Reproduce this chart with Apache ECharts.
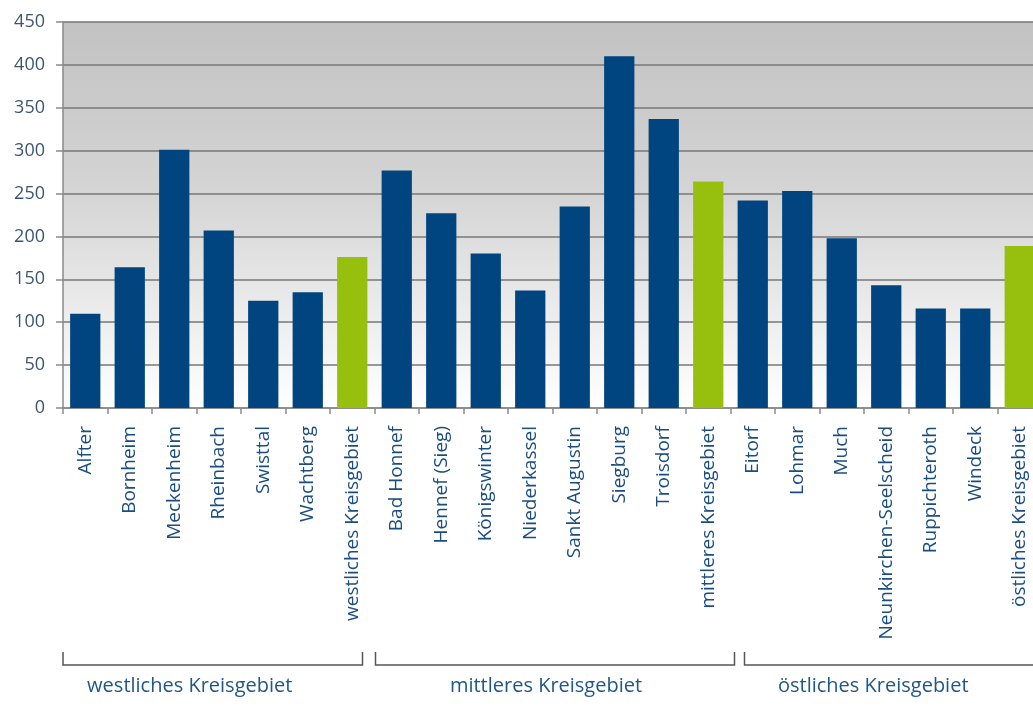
<!DOCTYPE html>
<html><head><meta charset="utf-8">
<script src="https://cdn.jsdelivr.net/npm/echarts@6/dist/echarts.min.js"></script>
<style>html,body{margin:0;padding:0;background:#fff;overflow:hidden}#c{width:1045px;height:706px}</style>
</head><body><div id="c"></div>
<script>
const categories = ["Alfter","Bornheim","Meckenheim","Rheinbach","Swisttal","Wachtberg","westliches Kreisgebiet","Bad Honnef","Hennef (Sieg)","Königswinter","Niederkassel","Sankt Augustin","Siegburg","Troisdorf","mittleres Kreisgebiet","Eitorf","Lohmar","Much","Neunkirchen-Seelscheid","Ruppichteroth","Windeck","östliches Kreisgebiet"];
const values = [110,164,301,207,125,135,176,277,227,180,137,235,410,337,264,242,253,198,143,116,116,189];
const isAggregate = [0,0,0,0,0,0,1,0,0,0,0,0,0,0,1,0,0,0,0,0,0,1];
const yTicks = [0,50,100,150,200,250,300,350,400,450];
const groups = [
  {name:"westliches Kreisgebiet", from:0, to:7},
  {name:"mittleres Kreisgebiet", from:7, to:15},
  {name:"östliches Kreisgebiet", from:15, to:22}
];
const BLUE = "#00457f", GREEN = "#97bf0d";
const chart = echarts.init(document.getElementById('c'));
chart.setOption({
  animation:false,
  grid:{left:63, top:22, bottom:298, width:979, show:true, borderWidth:0,
    backgroundColor:{type:'linear',x:0,y:0,x2:0,y2:1,colorStops:[{offset:0,color:'#c2c2c2'},{offset:0.45,color:'#d5d5d5'},{offset:1,color:'#ffffff'}]}},
  xAxis:{type:'category', data:categories,
    axisLine:{lineStyle:{color:'#8a8a8a',width:1.5}},
    axisTick:{show:true, length:6, lineStyle:{color:'#8a8a8a',width:1.5}},
    axisLabel:{rotate:90, interval:0, margin:18, color:'#1b4e80', fontFamily:'Open Sans', fontSize:19}},
  yAxis:{type:'value', min:0, max:450, interval:50,
    axisLine:{show:true, lineStyle:{color:'#8a8a8a',width:1.5}},
    axisTick:{show:true, length:7, lineStyle:{color:'#8a8a8a',width:1.5}},
    splitLine:{lineStyle:{color:'#777777',width:1.5}},
    axisLabel:{margin:18, color:'#3d5670', fontFamily:'Open Sans', fontSize:18,
      formatter:v=>yTicks.includes(v)?String(v):''}},
  series:[{type:'bar', barCategoryGap:'32%',
    data:values.map((v,i)=>({value:v, itemStyle:{color:isAggregate[i]?GREEN:BLUE}}))}]
});
function drawBrackets(){
  const y0 = 652, y1 = 665;
  const px = i => chart.convertToPixel({xAxisIndex:0}, i);
  const step = px(1)-px(0);
  const edge = b => px(0) - step/2 + b*step;
  const ends = [[0,-12,-23],[1,4,-9],[14,40,-40]];
  const els = [];
  groups.forEach((g,k)=>{
    const xa = edge(g.from)+ends[k][0], xb = edge(g.to)+ends[k][1];
    els.push({type:'polyline', shape:{points:[[xa,y0],[xa,y1],[xb,y1],[xb,y0]]}, style:{stroke:'#555',lineWidth:1.5,fill:null}});
    els.push({type:'text', x:(xa+xb)/2+ends[k][2], y:686,
      style:{text:g.name, fill:'#1f5788', font:'20px "Open Sans"', align:'center', verticalAlign:'middle'}});
  });
  chart.setOption({graphic:els});
}
drawBrackets();
</script></body></html>
